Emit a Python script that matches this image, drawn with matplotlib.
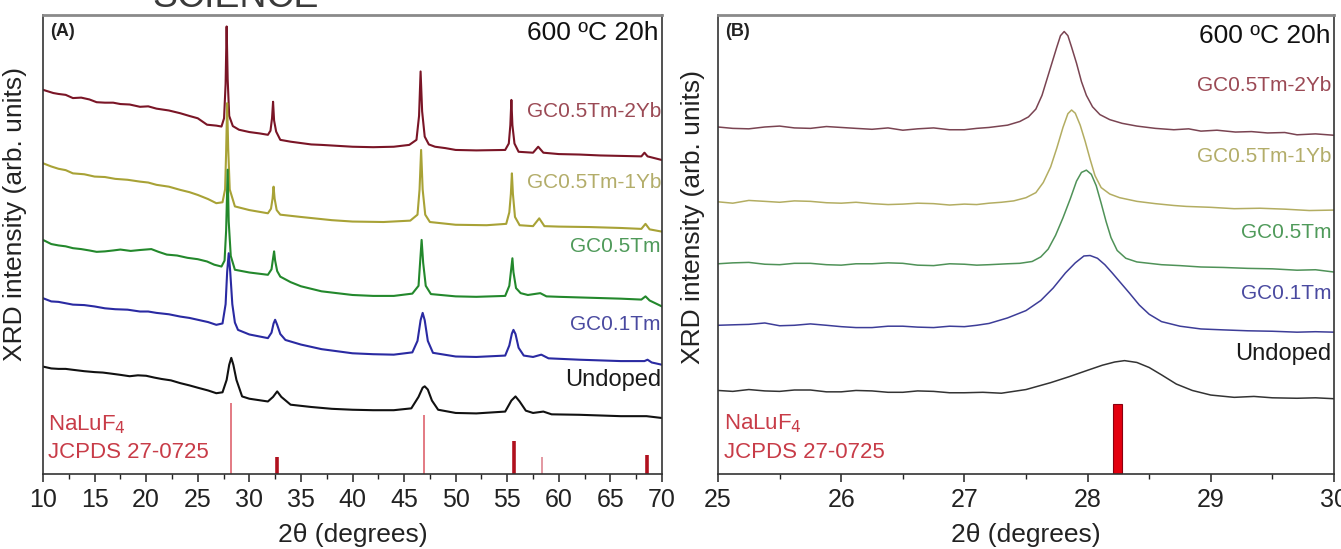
import matplotlib
matplotlib.use("Agg")
import matplotlib.pyplot as plt
from matplotlib.ticker import MultipleLocator

plt.rcParams['font.family'] = ['Liberation Sans', 'DejaVu Sans']

# ---------------- data: panel A (2theta, relative intensity %) ----------------
A_RED = [(10, 83.7), (11, 83.0), (11.5, 82.8), (12.2, 82.6), (12.9, 81.9), (13.7, 82.0), (14.5, 81.6),
         (15.2, 81.0), (16, 80.9), (16.8, 80.9), (17.5, 80.6), (18.4, 80.5), (19.4, 80.0), (20.2, 80.1),
         (21, 79.6), (22.2, 79.2), (23.3, 78.6), (24.2, 78.0), (25, 77.5), (25.9, 76.1), (26.8, 75.9),
         (27.3, 75.7), (27.55, 77.5), (27.7, 85), (27.8, 97.5), (27.9, 86), (28.05, 78), (28.4, 75.8),
         (29, 75.0), (30, 74.5), (31, 74.2), (31.8, 73.9), (32.05, 74.8), (32.2, 77.5), (32.3, 81.1),
         (32.4, 77.0), (32.6, 74.6), (33, 72.8), (34, 72.4), (35, 72.1), (36, 71.8), (37, 71.7), (38.5, 71.5),
         (40, 71.3), (42, 71.2), (44, 71.3), (45.5, 71.7), (46.2, 72.8), (46.45, 78), (46.6, 87.7),
         (46.75, 79), (47.0, 73.5), (47.4, 71.8), (48, 71.3), (49, 71.0), (50, 70.6), (52, 70.5),
         (54.8, 70.6), (55.15, 72), (55.3, 76), (55.4, 81.5), (55.5, 76), (55.7, 72), (56.1, 70.2),
         (57.5, 70.0), (58.0, 71.3), (58.5, 70.0), (60, 69.7), (62, 69.6), (64, 69.4), (66, 69.3),
         (68, 69.2), (68.3, 70.0), (68.6, 69.2), (70, 68.4)]
A_YELLOW = [(10, 67.7), (10.8, 67.0), (11.5, 66.5), (12.2, 66.2), (12.9, 65.5), (14, 65.3), (15, 64.8),
            (16, 64.7), (17, 64.3), (18.2, 64.1), (19.4, 63.7), (20.2, 63.5), (21, 63.0), (22.2, 62.6),
            (23.3, 61.9), (24.2, 61.4), (25, 60.8), (26, 59.9), (26.8, 59.0), (27.4, 59.2), (27.65, 62),
            (27.75, 70), (27.85, 80.8), (27.95, 71), (28.1, 62), (28.6, 58.3), (30, 57.5), (31.8, 56.8),
            (32.1, 57.8), (32.25, 60), (32.35, 62.6), (32.45, 60), (32.65, 57.5), (33, 56.5), (35, 56.0),
            (38, 55.3), (40, 55.0), (43, 54.9), (45.6, 55.2), (46.3, 56.5), (46.5, 62), (46.65, 70.6),
            (46.8, 62), (47.05, 56.5), (47.5, 54.9), (50, 54.3), (53, 54.2), (54.9, 54.5), (55.2, 57),
            (55.35, 61), (55.45, 65.5), (55.55, 61), (55.75, 56), (56.2, 54.2), (57.5, 54.0), (58.1, 55.7),
            (58.6, 54.0), (60, 53.9), (63, 53.8), (66, 53.6), (68, 53.4), (68.4, 54.5), (68.8, 53.3),
            (70, 52.8)]
A_GREEN = [(10, 51.0), (10.8, 50.1), (11.5, 49.8), (12.2, 49.6), (12.9, 49.2), (13.7, 49.0), (14.5, 48.7),
           (15.2, 48.4), (16, 48.5), (16.8, 48.7), (17.5, 48.9), (18.5, 48.6), (19.4, 48.8), (20.5, 49.0),
           (21.2, 48.4), (22, 47.8), (23, 47.6), (24, 47.1), (25, 46.8), (25.9, 46.3), (26.6, 45.6),
           (27.3, 45.2), (27.6, 46.5), (27.75, 53), (27.9, 66.3), (28.0, 55), (28.2, 47.5), (28.6, 44.5),
           (30, 43.9), (31.8, 43.4), (32.15, 44.6), (32.3, 47), (32.4, 48.5), (32.5, 46.5), (32.7, 44.2),
           (33, 43.0), (34, 41.8), (35, 40.9), (37, 39.8), (40, 39.0), (42, 38.8), (44, 38.8), (45.8, 39.3),
           (46.4, 41), (46.55, 46), (46.7, 51.0), (46.85, 46), (47.1, 41), (47.6, 39.2), (50, 38.7),
           (52, 38.6), (54.8, 38.8), (55.2, 41), (55.35, 44), (55.5, 47.0), (55.6, 44), (55.85, 40.5),
           (56.3, 39.4), (57, 39.0), (58.2, 39.4), (58.8, 38.7), (60, 38.6), (63, 38.4), (66, 38.2),
           (68, 38.0), (68.4, 38.7), (68.8, 37.8), (70, 36.5)]
A_BLUE = [(10, 38.3), (10.8, 37.6), (11.5, 37.5), (12.2, 37.2), (12.9, 36.9), (14, 36.8), (15, 36.5),
          (16, 36.1), (17, 35.9), (18.2, 35.8), (19.4, 35.4), (20.2, 35.4), (21, 35.1), (22.2, 34.8),
          (23.3, 34.3), (24.2, 34.0), (25, 33.6), (26, 33.1), (26.8, 32.5), (27.4, 32.8), (27.7, 37),
          (27.85, 44), (28.0, 48.1), (28.15, 44), (28.35, 37), (28.6, 33.0), (28.9, 31.4), (30, 30.4),
          (31.8, 29.6), (32.15, 30.8), (32.35, 32.8), (32.5, 33.6), (32.7, 32.5), (33.0, 30.5), (33.5, 29.2),
          (35, 28.2), (37, 27.2), (40, 26.3), (42, 26.1), (44, 26.0), (45.8, 26.5), (46.3, 29), (46.6, 33.5),
          (46.8, 35.1), (47.0, 33.5), (47.3, 29), (47.8, 26.4), (50, 25.6), (52, 25.5), (54.8, 25.8),
          (55.2, 28), (55.45, 30.6), (55.6, 31.4), (55.8, 30.5), (56.1, 27.5), (56.6, 25.8), (57.5, 25.5),
          (58.3, 26.0), (59, 25.2), (62, 24.9), (66, 24.6), (68.3, 24.6), (68.6, 24.9), (69, 24.3),
          (70, 23.8)]
A_BLACK = [(10, 23.4), (10.8, 23.0), (11.5, 22.9), (12.2, 22.9), (12.9, 22.7), (14, 22.4), (15, 22.2),
           (15.8, 22.1), (16.5, 21.9), (17.5, 21.6), (18.4, 21.3), (19.2, 21.5), (20, 21.4), (20.8, 21.0),
           (21.5, 20.7), (22.4, 20.4), (23.3, 19.8), (24.2, 19.3), (25, 18.8), (26, 18.2), (26.8, 17.6),
           (27.4, 17.8), (27.8, 20.5), (28.05, 23.8), (28.25, 25.3), (28.45, 23.8), (28.75, 20.5),
           (29.3, 16.9), (30, 16.4), (31.8, 15.8), (32.3, 16.8), (32.7, 18.0), (33.1, 16.8), (34, 15.1),
           (36, 14.6), (38, 14.2), (40, 14.0), (42, 13.9), (44, 13.9), (45.7, 14.3), (46.4, 16.8),
           (46.8, 18.8), (47.0, 19.1), (47.3, 18.4), (47.7, 16.0), (48.3, 14.0), (50, 13.3), (52, 13.2),
           (54.8, 13.6), (55.4, 16.0), (55.8, 16.9), (56.2, 15.8), (56.8, 13.8), (57.5, 13.3), (58.5, 13.6),
           (59.3, 13.0), (62, 12.9), (66, 12.6), (68.5, 12.6), (70, 12.2)]

# JCPDS 27-0725 reference lines (position, relative height)
REF_A_POS = [28.2, 32.7, 46.95, 55.7, 58.4, 68.5]
REF_A_HEIGHT = [15.5, 3.8, 12.9, 7.1, 3.8, 4.2]

# ---------------- data: panel B ----------------
B_RED = [(25, 75.6), (25.12, 75.3), (25.25, 75.2), (25.38, 75.6), (25.5, 75.8), (25.62, 75.4),
         (25.75, 75.3), (25.88, 75.7), (26, 75.5), (26.12, 75.3), (26.25, 75.1), (26.38, 75.4),
         (26.5, 74.9), (26.62, 75.2), (26.75, 75.4), (26.88, 75.0), (27, 75.0), (27.1, 75.3),
         (27.2, 75.5), (27.35, 76.0), (27.45, 76.8), (27.52, 77.8), (27.58, 79.5), (27.63, 82.5),
         (27.67, 86.0), (27.71, 89.5), (27.75, 93.0), (27.78, 95.5), (27.81, 96.4), (27.84, 95.5),
         (27.87, 93.0), (27.91, 89.5), (27.95, 85.5), (27.99, 82.5), (28.04, 80.0), (28.10, 78.3),
         (28.18, 77.2), (28.28, 76.4), (28.4, 75.8), (28.55, 75.3), (28.7, 75.0), (28.82, 75.2),
         (28.92, 74.7), (29.05, 74.9), (29.2, 74.5), (29.33, 74.6), (29.46, 74.3), (29.6, 74.4),
         (29.7, 73.9), (29.85, 74.1), (30, 73.8)]
B_YELLOW = [(25, 59.3), (25.12, 59.0), (25.25, 59.6), (25.38, 59.4), (25.5, 59.2), (25.62, 59.5),
            (25.75, 59.4), (25.88, 59.1), (26, 59.0), (26.12, 59.2), (26.25, 58.9), (26.38, 58.7),
            (26.5, 58.8), (26.62, 59.0), (26.75, 58.9), (26.88, 58.6), (27, 58.8), (27.1, 58.7),
            (27.2, 59.0), (27.3, 59.2), (27.4, 59.5), (27.5, 60.2), (27.58, 61.3), (27.64, 63.5),
            (27.70, 66.9), (27.75, 71.0), (27.80, 75.5), (27.84, 78.5), (27.87, 79.3), (27.90, 78.6),
            (27.94, 76.0), (27.98, 72.5), (28.02, 68.6), (28.06, 65.0), (28.11, 62.4), (28.18, 61.0),
            (28.26, 60.2), (28.4, 59.4), (28.55, 58.9), (28.7, 58.5), (28.8, 58.3), (29.0, 58.1),
            (29.19, 57.8), (29.4, 57.9), (29.6, 57.7), (29.8, 57.4), (30, 57.5)]
B_GREEN = [(25, 45.8), (25.12, 46.0), (25.25, 46.1), (25.38, 45.7), (25.5, 45.6), (25.62, 45.9),
           (25.75, 45.9), (25.88, 45.6), (26, 45.5), (26.12, 45.8), (26.25, 45.8), (26.38, 46.0),
           (26.5, 45.9), (26.62, 45.5), (26.75, 45.4), (26.88, 45.8), (27, 45.7), (27.1, 45.5),
           (27.2, 45.6), (27.35, 45.8), (27.45, 45.9), (27.55, 46.3), (27.62, 47.3), (27.68, 49.0),
           (27.74, 52.0), (27.80, 55.8), (27.86, 60.0), (27.91, 63.8), (27.95, 65.7), (27.99, 66.2),
           (28.03, 65.3), (28.07, 62.8), (28.11, 59.0), (28.15, 55.0), (28.19, 51.5), (28.24, 48.7),
           (28.31, 47.0), (28.4, 46.2), (28.6, 45.6), (28.75, 45.4), (28.92, 45.1), (29.1, 45.0),
           (29.3, 44.8), (29.5, 44.7), (29.7, 44.4), (29.85, 44.5), (30, 44.0)]
B_BLUE = [(25, 32.4), (25.12, 32.5), (25.25, 32.6), (25.38, 32.9), (25.5, 32.3), (25.62, 32.4),
          (25.75, 32.7), (25.88, 32.4), (26, 32.1), (26.12, 31.9), (26.25, 31.9), (26.38, 32.2),
          (26.5, 32.2), (26.62, 32.0), (26.75, 31.9), (26.88, 32.2), (27, 32.1), (27.1, 32.4),
          (27.2, 32.8), (27.35, 34.0), (27.5, 35.6), (27.62, 37.8), (27.72, 40.5), (27.82, 43.8),
          (27.9, 46.0), (27.97, 47.5), (28.02, 47.6), (28.08, 47.0), (28.14, 45.6), (28.2, 43.8),
          (28.27, 41.6), (28.34, 39.4), (28.42, 36.8), (28.5, 34.8), (28.6, 33.2), (28.75, 32.2),
          (28.92, 31.6), (29.1, 31.4), (29.3, 31.2), (29.5, 31.1), (29.7, 30.9), (29.85, 31.0), (30, 30.9)]
B_BLACK = [(25, 18.2), (25.12, 18.0), (25.25, 18.4), (25.38, 18.1), (25.5, 18.0), (25.62, 18.3),
           (25.75, 18.3), (25.88, 17.9), (26, 17.9), (26.12, 18.2), (26.25, 18.1), (26.38, 17.8),
           (26.5, 17.8), (26.62, 18.1), (26.75, 18.0), (26.88, 17.7), (27, 17.7), (27.15, 17.8),
           (27.3, 17.6), (27.5, 18.4), (27.7, 19.9), (27.85, 21.2), (28.0, 22.6), (28.12, 23.7),
           (28.22, 24.4), (28.3, 24.7), (28.4, 24.3), (28.5, 23.2), (28.6, 21.6), (28.72, 19.6),
           (28.85, 18.2), (29.0, 17.2), (29.19, 16.7), (29.35, 16.9), (29.5, 16.6), (29.7, 16.5),
           (29.85, 16.6), (30, 16.4)]

REF_B_POS = [28.24]
REF_B_HEIGHT = [15.3]

LABELS = ["GC0.5Tm-2Yb", "GC0.5Tm-1Yb", "GC0.5Tm", "GC0.1Tm", "Undoped"]

# ---------------- styles ----------------
A_LINE_COLORS = ['#7a1526', '#a8a236', '#23882c', '#2a2aa2', '#111111']
B_LINE_COLORS = ['#7a4452', '#b3ad62', '#4f9258', '#3d3d98', '#333333']
LABEL_COLORS = ['#9b4a55', '#b3ad6a', '#4f9a5a', '#4a4aa0', '#1a1a1a']
LABEL_SIZES = [15, 15, 15, 15, 17]
A_LABEL_Y = [79.0, 63.4, 49.6, 32.5, 20.5]
B_LABEL_Y = [84.7, 69.1, 52.7, 39.3, 26.2]
REF_COLOR = '#c83c48'
REF_A_STYLE = [(1.3, '#e0707a'), (2.6, '#b0101e'), (1.3, '#e0707a'), (2.6, '#b0101e'),
               (1.3, '#e0909a'), (2.6, '#b0101e')]

W, H = 1341, 549
fig = plt.figure(figsize=(W / 100, H / 100), dpi=100)
axA = fig.add_axes([43 / W, 75 / H, 619 / W, 459 / H])
axB = fig.add_axes([718 / W, 75 / H, 616 / W, 459 / H])


def unzip(pairs):
    return [p[0] for p in pairs], [p[1] for p in pairs]


def style_axes(ax, xmin, xmax, major, minor):
    ax.set_xlim(xmin, xmax)
    ax.set_ylim(0, 100)
    ax.xaxis.set_major_locator(MultipleLocator(major))
    ax.xaxis.set_minor_locator(MultipleLocator(minor))
    ax.tick_params(axis='x', which='major', direction='out', length=6, width=1.1,
                   labelsize=18, pad=4, colors='#222222')
    ax.tick_params(axis='x', which='minor', direction='out', length=3.5, width=1.0, colors='#222222')
    ax.tick_params(axis='y', left=False, labelleft=False)
    for s in ax.spines.values():
        s.set_linewidth(1.2)
        s.set_color('#333333')
    ax.spines['top'].set_color('#8a8a8a')
    ax.spines['top'].set_linewidth(2.0)
    ax.set_xlabel('2θ (degrees)', fontsize=19, labelpad=8, color='#222222')
    ax.set_ylabel('XRD intensity (arb. units)', fontsize=19, color='#222222')


# ---- panel A ----
style_axes(axA, 10, 70, 5, 2.5)
for series, c in zip([A_RED, A_YELLOW, A_GREEN, A_BLUE, A_BLACK], A_LINE_COLORS):
    x, y = unzip(series)
    axA.plot(x, y, color=c, lw=1.5, solid_joinstyle='round')
for pos, h, (lw, c) in zip(REF_A_POS, REF_A_HEIGHT, REF_A_STYLE):
    axA.vlines(pos, 0, h, color=c, lw=lw)
for lab, y, c, fs in zip(LABELS, A_LABEL_Y, LABEL_COLORS, LABEL_SIZES):
    axA.text(69.9, y, lab, color=c, fontsize=fs, ha='right', va='center')
axA.text(0.012, 0.965, '(A)', transform=axA.transAxes, fontsize=13, fontweight='bold',
         ha='left', va='center', color='#222222')
axA.text(0.995, 0.96, '600 ºC 20h', transform=axA.transAxes, fontsize=19,
         ha='right', va='center', color='#111111')
axA.text(0.008, 0.107, 'NaLuF$_4$', transform=axA.transAxes, fontsize=16, color=REF_COLOR,
         ha='left', va='center')
axA.text(0.008, 0.046, 'JCPDS 27-0725', transform=axA.transAxes, fontsize=16, color=REF_COLOR,
         ha='left', va='center')
axA.yaxis.set_label_coords(-0.026, 0.566)

# ---- panel B ----
style_axes(axB, 25, 30, 1, 0.5)
for series, c in zip([B_RED, B_YELLOW, B_GREEN, B_BLUE, B_BLACK], B_LINE_COLORS):
    x, y = unzip(series)
    axB.plot(x, y, color=c, lw=1.1, solid_joinstyle='round')
axB.bar(REF_B_POS, REF_B_HEIGHT, width=0.075, color='#e3000f', edgecolor='#8a0010', linewidth=0.8)
for lab, y, c, fs in zip(LABELS, B_LABEL_Y, LABEL_COLORS, LABEL_SIZES):
    axB.text(29.98, y, lab, color=c, fontsize=fs, ha='right', va='center')
axB.text(0.012, 0.965, '(B)', transform=axB.transAxes, fontsize=13, fontweight='bold',
         ha='left', va='center', color='#222222')
axB.text(0.995, 0.955, '600 ºC 20h', transform=axB.transAxes, fontsize=19,
         ha='right', va='center', color='#111111')
axB.text(0.01, 0.109, 'NaLuF$_4$', transform=axB.transAxes, fontsize=16, color=REF_COLOR,
         ha='left', va='center')
axB.text(0.01, 0.047, 'JCPDS 27-0725', transform=axB.transAxes, fontsize=16, color=REF_COLOR,
         ha='left', va='center')
axB.yaxis.set_label_coords(-0.021, 0.56)

# header fragment cut at the top of the source image
fig.text(152 / W, 1 - 7 / H, 'SCIENCE', fontsize=27, color='#3a3a3a', ha='left', va='baseline')

fig.savefig('out.png', dpi=100, facecolor='white')
